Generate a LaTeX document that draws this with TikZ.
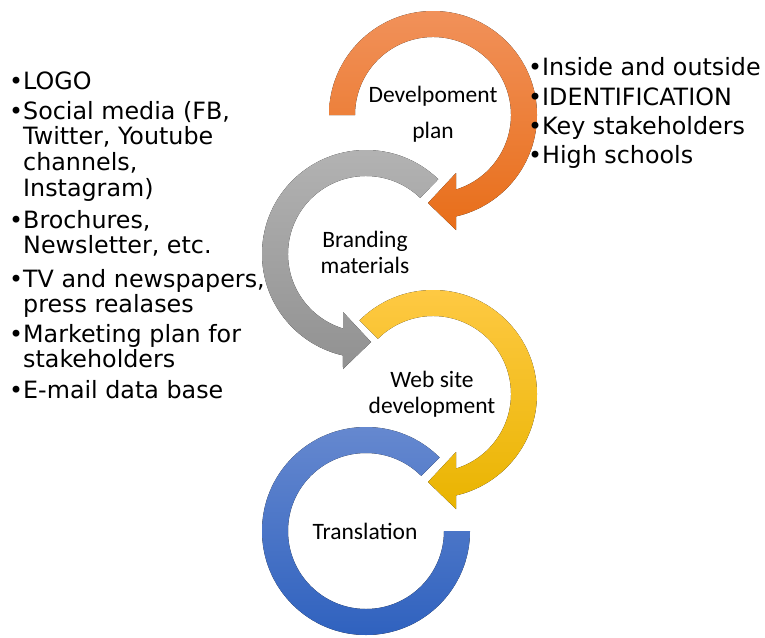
\documentclass[tikz,border=0pt]{standalone}
\usepackage{fontspec}
\usetikzlibrary{calc}
\newfontfamily\listfont{DejaVu Sans}
\newfontfamily\labelfont{Carlito}

\definecolor{orTop}{RGB}{241,145,90}
\definecolor{orBot}{RGB}{232,110,25}
\definecolor{grTop}{RGB}{180,180,180}
\definecolor{grBot}{RGB}{145,145,145}
\definecolor{yeTop}{RGB}{255,202,70}
\definecolor{yeBot}{RGB}{233,180,0}
\definecolor{blTop}{RGB}{104,138,208}
\definecolor{blBot}{RGB}{45,96,190}

% bulleted entry: first baseline on the node's base, lines stacked below
\newcommand{\bulletlines}[1]{\begin{tabular}[t]{@{}l@{}}\llap{•}#1\end{tabular}}

\tikzset{
  steplabel/.style={font=\labelfont\fontsize{23.5}{28}\selectfont, inner sep=0pt, anchor=base, text=black},
  bulletitem/.style={font=\listfont\fontsize{23.8}{25.5}\selectfont, inner sep=0pt, anchor=base west, text=black},
}

\begin{document}
\begin{tikzpicture}[x=1pt,y=1pt]
\useasboundingbox (0,0) rectangle (765,-637);

% ring centres
\coordinate (oc) at (433,-115);
\coordinate (gc) at (366,-254);
\coordinate (yc) at (433,-394);
\coordinate (bc) at (366,-531);

% orange: clockwise ring with head pointing left
\fill[top color=orTop, bottom color=orBot]
  ($(oc)+(180:104pt)$) arc[start angle=180, end angle=-77.2, radius=104pt]
  -- ($(oc)+(23,-115)$) -- ($(oc)+(-5,-88)$) -- ($(oc)+(23,-58)$)
  -- ($(oc)+(-72.85:78pt)$) arc[start angle=-72.85, end angle=180, radius=78pt] -- cycle;

% grey: counter-clockwise ring with head pointing right
\fill[top color=grTop, bottom color=grBot]
  ($(gc)+(46:104pt)$) arc[start angle=46, end angle=257.2, radius=104pt]
  -- ($(gc)+(-23,-115)$) -- ($(gc)+(5,-88)$) -- ($(gc)+(-23,-58)$)
  -- ($(gc)+(252.85:78pt)$) arc[start angle=252.85, end angle=46, radius=78pt] -- cycle;

% yellow: clockwise ring with head pointing left
\fill[top color=yeTop, bottom color=yeBot]
  ($(yc)+(135:104pt)$) arc[start angle=135, end angle=-77.2, radius=104pt]
  -- ($(yc)+(23,-115)$) -- ($(yc)+(-5,-88)$) -- ($(yc)+(23,-58)$)
  -- ($(yc)+(-72.85:78pt)$) arc[start angle=-72.85, end angle=135, radius=78pt] -- cycle;

% blue: open ring, no head
\fill[top color=blTop, bottom color=blBot]
  ($(bc)+(45:104pt)$) arc[start angle=45, end angle=360, radius=104pt]
  -- ($(bc)+(0:78pt)$) arc[start angle=360, end angle=45, radius=78pt] -- cycle;

% step labels
\node[steplabel] (dev1) at (433,-102) {Develpoment};
\node[steplabel] (dev2) at (433,-138) {plan};
\node[steplabel] (bra1) at (365,-247) {Branding};
\node[steplabel] (bra2) at (365,-273) {materials};
\node[steplabel] (web1) at (432,-387) {Web site};
\node[steplabel] (web2) at (432,-413) {development};
\node[steplabel] (tra)  at (365,-539) {Translation};

% right-hand list
\node[bulletitem] (r1) at (542,-75)  {\bulletlines{Inside and outside}};
\node[bulletitem] (r2) at (542,-105) {\bulletlines{IDENTIFICATION}};
\node[bulletitem] (r3) at (542,-134) {\bulletlines{Key stakeholders}};
\node[bulletitem] (r4) at (542,-163) {\bulletlines{High schools}};

% left-hand list
\node[bulletitem] (l1) at (23,-89)  {\bulletlines{LOGO}};
\node[bulletitem] (l2) at (23,-119) {\bulletlines{Social media (FB,\\Twitter, Youtube\\channels,\\Instagram)}};
\node[bulletitem] (l3) at (23,-228) {\bulletlines{Brochures,\\Newsletter, etc.}};
\node[bulletitem] (l4) at (23,-287) {\bulletlines{TV and newspapers,\\press realases}};
\node[bulletitem] (l5) at (23,-342) {\bulletlines{Marketing plan for\\stakeholders}};
\node[bulletitem] (l6) at (23,-398) {\bulletlines{E-mail data base}};
\end{tikzpicture}
\end{document}
